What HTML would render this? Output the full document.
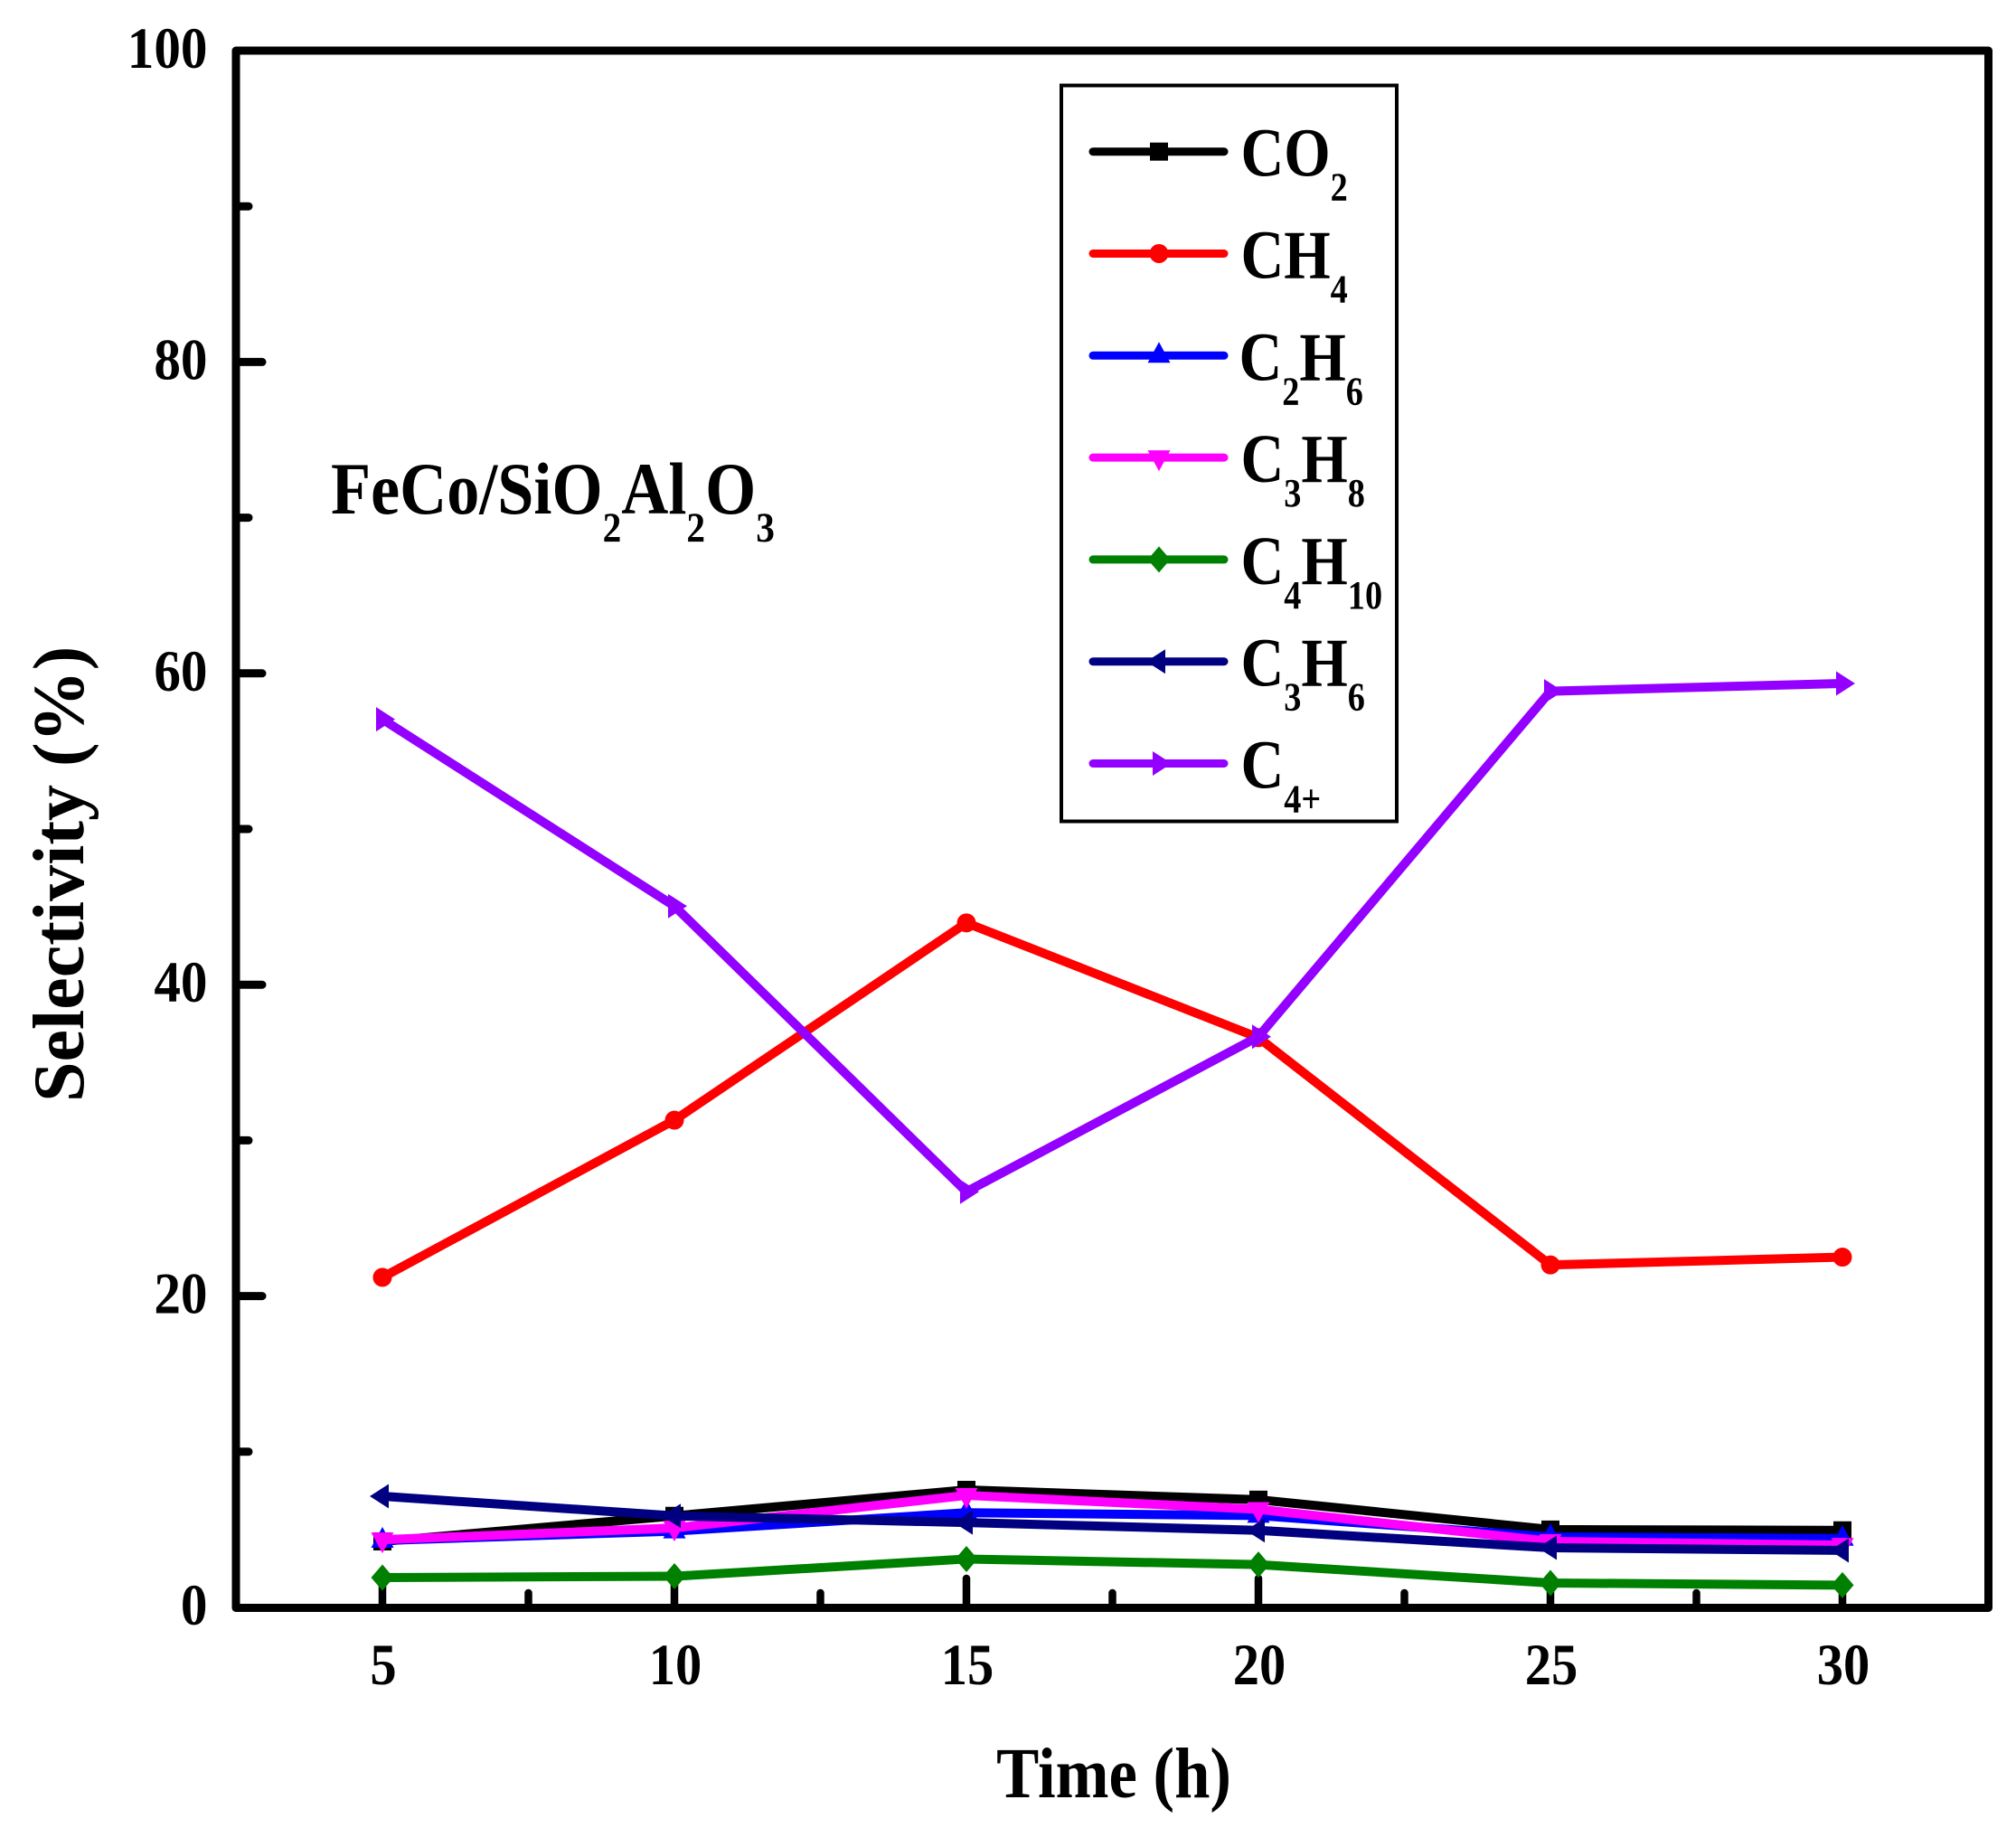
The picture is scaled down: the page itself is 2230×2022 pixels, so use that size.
<!DOCTYPE html>
<html lang="en">
<head>
<meta charset="utf-8">
<title>Selectivity vs Time</title>
<style>
html,body{margin:0;padding:0;background:#fff;}
svg{display:block;}
text{font-family:"Liberation Serif",serif;font-weight:bold;fill:#000;}
</style>
</head>
<body>
<svg id="chart" xmlns="http://www.w3.org/2000/svg" width="2230" height="2022" viewBox="0 0 2230 2022">
  <rect x="0" y="0" width="2230" height="2022" fill="#fff"/>
  <g id="ticks"></g>
  <rect x="261" y="56" width="1938.5" height="1722.5" fill="none" stroke="#000" stroke-width="9" stroke-linejoin="round"/>
  <g id="tick-labels"></g>
  <g id="series"></g>

  <g transform="translate(1232,1988) scale(.895,1)"><text font-size="79" text-anchor="middle">Time (h)</text></g>
  <g transform="translate(92,1219) rotate(-90) scale(1,1)"><text font-size="80">Selectivity (%)</text></g>
  <g transform="translate(366,568) scale(.88,1)"><text font-size="82">FeCo/SiO<tspan font-size="47" dy="31">2</tspan><tspan dy="-31">Al</tspan><tspan font-size="47" dy="31">2</tspan><tspan dy="-31">O</tspan><tspan font-size="47" dy="31">3</tspan></text></g>

  <g id="legend">
    <rect x="1174" y="94.5" width="371" height="814" fill="#fff" stroke="#000" stroke-width="4"/>
    <g id="legend-samples"></g>
    <g transform="translate(1372.5,194.7) scale(.87,1)"><text font-size="76">CO<tspan font-size="44" dy="27">2</tspan></text></g>
    <g transform="translate(1372.5,307.5) scale(.87,1)"><text font-size="76">CH<tspan font-size="44" dy="27">4</tspan></text></g>
    <g transform="translate(1370.5,420.3) scale(.87,1)"><text font-size="76">C<tspan font-size="44" dy="27">2</tspan><tspan dy="-27">H</tspan><tspan font-size="44" dy="27">6</tspan></text></g>
    <g transform="translate(1372.5,533.1) scale(.87,1)"><text font-size="76">C<tspan font-size="44" dy="27">3</tspan><tspan dy="-27">H</tspan><tspan font-size="44" dy="27">8</tspan></text></g>
    <g transform="translate(1372.5,645.9) scale(.87,1)"><text font-size="76">C<tspan font-size="44" dy="27">4</tspan><tspan dy="-27">H</tspan><tspan font-size="44" dy="27">10</tspan></text></g>
    <g transform="translate(1372.5,758.7) scale(.87,1)"><text font-size="76">C<tspan font-size="44" dy="27">3</tspan><tspan dy="-27">H</tspan><tspan font-size="44" dy="27">6</tspan></text></g>
    <g transform="translate(1372.5,871.5) scale(.87,1)"><text font-size="76">C<tspan font-size="44" dy="27">4+</tspan></text></g>
  </g>
</svg>

<script>
const timeH = [5, 10, 15, 20, 25, 30];
const co2Values = [4.24, 5.88, 7.55, 6.92, 5.0, 4.95];
const ch4Values = [21.2, 31.3, 43.97, 36.6, 22.0, 22.5];
const c2h6Values = [4.3, 4.9, 6.08, 5.9, 4.53, 4.43];
const c3h8Values = [4.35, 5.1, 7.2, 6.3, 4.24, 4.0];
const c4h10Values = [1.92, 2.0, 3.11, 2.75, 1.57, 1.43];
const c3h6Values = [7.14, 5.88, 5.45, 4.95, 3.83, 3.66];
const c4plusValues = [57.05, 45.05, 26.7, 36.66, 58.85, 59.35];
const seriesKeys = ['co2', 'ch4', 'c2h6', 'c3h8', 'c4h10', 'c3h6', 'c4plus'];
const xTickLabels = ['5', '10', '15', '20', '25', '30'];
const xMinorTicks = [7.5, 12.5, 17.5, 22.5, 27.5];
const yTickLabels = ['0', '20', '40', '60', '80', '100'];
const yMinorTicks = [10, 30, 50, 70, 90];

const seriesValues = [co2Values, ch4Values, c2h6Values, c3h8Values, c4h10Values, c3h6Values, c4plusValues];
const seriesColors = ['#000000', '#ff0000', '#0000ff', '#ff00ff', '#008000', '#000080', '#9400ff'];
const seriesShapes = ['square', 'circle', 'up', 'down', 'diamond', 'left', 'right'];

function xScale(v) { return 423 + (v - 5) * 64.6; }
function yScale(v) { return 1778 - v * 17.22; }

const NS = 'http://www.w3.org/2000/svg';
function make(tag, attrs, parent) {
  const el = document.createElementNS(NS, tag);
  for (const k in attrs) el.setAttribute(k, attrs[k]);
  parent.appendChild(el);
  return el;
}

function marker(shape, cx, cy, color, parent) {
  let el;
  if (shape === 'square') {
    el = make('rect', { x: cx - 10, y: cy - 10, width: 20, height: 20, fill: color }, parent);
  } else if (shape === 'circle') {
    el = make('circle', { cx: cx, cy: cy, r: 10.5, fill: color }, parent);
  } else {
    let pts;
    if (shape === 'up') pts = [[0, -15], [12.5, 8], [-12.5, 8]];
    if (shape === 'down') pts = [[0, 15], [12.5, -8], [-12.5, -8]];
    if (shape === 'diamond') pts = [[0, -14.5], [12.5, 0], [0, 14.5], [-12.5, 0]];
    if (shape === 'left') pts = [[-14, 0], [7, -13.5], [7, 13.5]];
    if (shape === 'right') pts = [[14, 0], [-7, -13.5], [-7, 13.5]];
    el = make('polygon', { points: pts.map(p => (cx + p[0]) + ',' + (cy + p[1])).join(' '), fill: color }, parent);
  }
  return el;
}

const tickGroup = document.getElementById('ticks');
const labelGroup = document.getElementById('tick-labels');
const seriesGroup = document.getElementById('series');
const legendGroup = document.getElementById('legend-samples');

xTickLabels.forEach(function (label) {
  const v = Number(label);
  const tick = make('line', { x1: xScale(v), x2: xScale(v), y1: 1778, y2: 1746, stroke: '#000', 'stroke-width': 8.5, 'stroke-linecap': 'round' }, tickGroup);
  
  
  const g = make('g', { transform: 'translate(' + (xScale(v) + 1) + ',1863) scale(.9,1)' }, labelGroup);
  
  
  const t = make('text', { 'font-size': 65, 'text-anchor': 'middle' }, g);
  t.textContent = label;
});

xMinorTicks.forEach(function (v) {
  const tick = make('line', { x1: xScale(v), x2: xScale(v), y1: 1778, y2: 1762, stroke: '#000', 'stroke-width': 8.5, 'stroke-linecap': 'round' }, tickGroup);
  
  
});

yTickLabels.forEach(function (label) {
  const v = Number(label);
  if (v > 0 && v < 100) {
    const tick = make('line', { x1: 261, x2: 290, y1: yScale(v), y2: yScale(v), stroke: '#000', 'stroke-width': 9, 'stroke-linecap': 'round' }, tickGroup);
    
    
  }
  const g = make('g', { transform: 'translate(229.5,' + (yScale(v) + 19) + ') scale(.91,1)' }, labelGroup);
  
  
  const t = make('text', { 'font-size': 65, 'text-anchor': 'end' }, g);
  t.textContent = label;
});

yMinorTicks.forEach(function (v) {
  const tick = make('line', { x1: 261, x2: 275, y1: yScale(v), y2: yScale(v), stroke: '#000', 'stroke-width': 9, 'stroke-linecap': 'round' }, tickGroup);
  
  
});

seriesKeys.forEach(function (key, i) {
  const values = seriesValues[i];
  const color = seriesColors[i];
  const shape = seriesShapes[i];
  const g = make('g', {}, seriesGroup);
  
  
  const pts = values.map(function (v, j) { return xScale(timeH[j]) + ',' + yScale(v); }).join(' ');
  const line = make('polyline', { points: pts, fill: 'none', stroke: color, 'stroke-width': 10, 'stroke-linejoin': 'miter', 'stroke-linecap': 'butt' }, g);
  
  
  values.forEach(function (v, j) {
    const m = marker(shape, xScale(timeH[j]), yScale(v), color, g);
    
    
  });

  const rowY = 167.7 + i * 112.8;
  const sample = make('line', { x1: 1209, x2: 1354, y1: rowY, y2: rowY, stroke: color, 'stroke-width': 9, 'stroke-linecap': 'round' }, legendGroup);
  
  
  const lm = marker(shape, 1282, rowY, color, legendGroup);
  
  
});
</script>
</body>
</html>
